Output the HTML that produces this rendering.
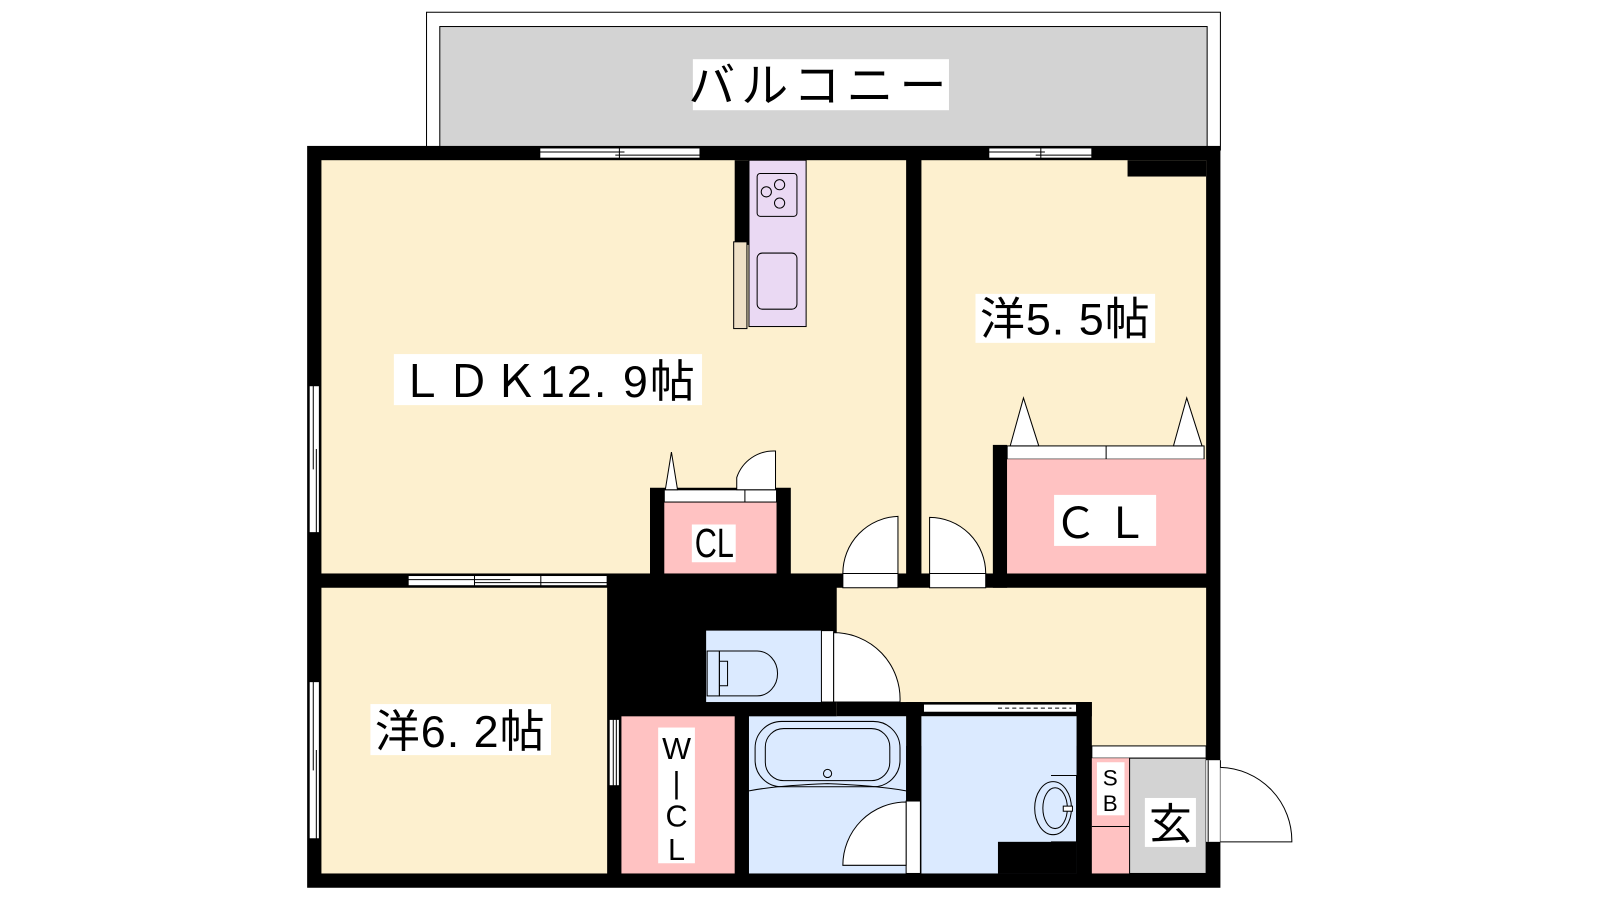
<!DOCTYPE html>
<html><head><meta charset="utf-8"><style>
html,body{margin:0;padding:0;background:#fff}
svg{display:block}
text{font-family:"Liberation Sans","Noto Sans CJK JP",sans-serif;fill:#000}
</style></head><body>
<svg width="1600" height="900" viewBox="0 0 1568 882" preserveAspectRatio="none" xmlns="http://www.w3.org/2000/svg">
<!-- balcony -->
<rect x="418" y="12" width="778" height="135" fill="#fff" stroke="#000" stroke-width="1"/>
<rect x="431" y="26" width="752" height="121" fill="#d3d3d3" stroke="#000" stroke-width="1"/>
<rect x="679" y="58" width="251" height="50" fill="#fff"/>
<text x="804" y="100" font-size="46" text-anchor="middle" letter-spacing="6">バルコニー</text>

<!-- floors -->
<rect x="301" y="143" width="895" height="727" fill="#000"/>
<rect x="315" y="157" width="573" height="405" fill="#fdf0cf"/>
<rect x="903" y="157" width="279" height="405" fill="#fdf0cf"/>
<rect x="1105" y="157" width="77" height="16" fill="#000"/>
<rect x="315" y="576" width="280" height="280" fill="#fdf0cf"/>
<rect x="820" y="576" width="362" height="155" fill="#fdf0cf"/>
<rect x="820" y="688" width="250" height="14" fill="#000"/>
<rect x="1055" y="688" width="15" height="55" fill="#000"/>

<!-- windows top -->
<rect x="529" y="145" width="157" height="10" fill="#fff" stroke="#000" stroke-width="1"/>
<line x1="529" y1="149" x2="612" y2="149" stroke="#000"/><line x1="603" y1="152" x2="686" y2="152" stroke="#000"/><line x1="607" y1="145" x2="607" y2="155" stroke="#000"/>
<rect x="969" y="145" width="101" height="10" fill="#fff" stroke="#000" stroke-width="1"/>
<line x1="969" y1="149" x2="1024" y2="149" stroke="#000"/><line x1="1015" y1="152" x2="1070" y2="152" stroke="#000"/><line x1="1020" y1="145" x2="1020" y2="155" stroke="#000"/>
<!-- left windows -->
<rect x="303" y="378" width="10" height="144" fill="#fff" stroke="#000"/>
<line x1="307" y1="378" x2="307" y2="460" stroke="#000"/><line x1="310" y1="440" x2="310" y2="522" stroke="#000"/>
<rect x="303" y="668" width="10" height="154" fill="#fff" stroke="#000"/>
<line x1="307" y1="668" x2="307" y2="755" stroke="#000"/><line x1="310" y1="735" x2="310" y2="822" stroke="#000"/>
<!-- LDK / 6.2 window -->
<rect x="400" y="564" width="195" height="10" fill="#fff" stroke="#000"/>
<line x1="400" y1="568" x2="500" y2="568" stroke="#000"/><line x1="465" y1="571" x2="595" y2="571" stroke="#000"/>
<line x1="465" y1="564" x2="465" y2="574" stroke="#000"/><line x1="530" y1="564" x2="530" y2="574" stroke="#000"/>
<!-- 6.2 / WIC window -->
<rect x="597" y="705" width="10" height="65" fill="#fff" stroke="#000"/>
<line x1="601" y1="705" x2="601" y2="770" stroke="#000"/><line x1="604" y1="705" x2="604" y2="770" stroke="#000"/>

<!-- kitchen -->
<rect x="720" y="157" width="14" height="83" fill="#000"/>
<rect x="719" y="237" width="13" height="85" fill="#efe0c6" stroke="#000"/>
<rect x="734" y="157" width="56" height="163" fill="#ead9f3" stroke="#000"/>
<rect x="742" y="170" width="39" height="42" rx="3" fill="none" stroke="#000"/>
<circle cx="751" cy="188" r="5" fill="none" stroke="#000"/><circle cx="764" cy="181" r="5" fill="none" stroke="#000"/><circle cx="764" cy="199" r="5" fill="none" stroke="#000"/>
<rect x="742" y="248" width="39" height="55" rx="5" fill="none" stroke="#000"/>

<!-- labels -->
<rect x="386" y="347" width="302" height="50" fill="#fff"/>
<text x="537" y="389" font-size="44" text-anchor="middle" letter-spacing="2">ＬＤＫ12. 9帖</text>
<rect x="956" y="288" width="176" height="48" fill="#fff"/>
<text x="1044" y="328" font-size="44" text-anchor="middle" letter-spacing="1">洋5. 5帖</text>

<!-- right CL -->
<rect x="973" y="436" width="14" height="140" fill="#000"/>
<rect x="987" y="437" width="193" height="13" fill="#fff" stroke="#000"/>
<line x1="1084" y1="437" x2="1084" y2="450" stroke="#000"/>
<rect x="987" y="450" width="195" height="112" fill="#ffc2c2"/>
<polygon points="990,437 1003,390 1018,437" fill="#fff" stroke="#000"/>
<polygon points="1150,437 1163,390 1178,437" fill="#fff" stroke="#000"/>
<rect x="1033" y="485" width="100" height="50" fill="#fff"/>
<text x="1083" y="527" font-size="42" text-anchor="middle" letter-spacing="8">ＣＬ</text>

<!-- small CL -->
<rect x="637" y="478" width="138" height="98" fill="#000"/>
<rect x="651" y="492" width="110" height="70" fill="#ffc2c2"/>
<rect x="651" y="480" width="110" height="12" fill="#fff" stroke="#000"/>
<line x1="730" y1="480" x2="730" y2="492" stroke="#000"/>
<polygon points="652,480 658,443 664,480" fill="#fff" stroke="#000"/>
<path d="M722,480 L722,468 A38,38 0 0 1 760,442 L760,480 Z" fill="#fff" stroke="#000"/>
<rect x="678" y="514" width="43" height="37" fill="#fff"/>
<text x="700" y="546" font-size="40" text-anchor="middle" transform="translate(700,0) scale(0.75,1) translate(-700,0)">CL</text>

<!-- doors LDK/5.5 -->
<rect x="826" y="562" width="54" height="14" fill="#fff" stroke="#000"/>
<path d="M826,562 A56,56 0 0 1 880,506 L880,562 Z" fill="#fff" stroke="#000"/>
<rect x="911" y="562" width="55" height="14" fill="#fff" stroke="#000"/>
<path d="M966,562 A55,55 0 0 0 911,507 L911,562 Z" fill="#fff" stroke="#000"/>

<!-- toilet -->
<rect x="692" y="618" width="113" height="70" fill="#dbeaff"/>
<rect x="805" y="618" width="12" height="70" fill="#fff" stroke="#000"/>
<path d="M817,620 A65,65 0 0 1 882,688 L817,688 Z" fill="#fff" stroke="#000"/>
<rect x="693" y="638" width="12" height="44" fill="none" stroke="#000"/>
<path d="M705,638 L742,638 A20,22 0 0 1 742,682 L705,682 Z" fill="none" stroke="#000"/>
<path d="M705,648 L713,648 L713,672 L705,672" fill="none" stroke="#000"/>

<!-- 6.2 label -->
<rect x="363" y="690" width="177" height="50" fill="#fff"/>
<text x="451" y="732" font-size="44" text-anchor="middle" letter-spacing="1">洋6. 2帖</text>

<!-- WIC -->
<rect x="609" y="702" width="111" height="154" fill="#ffc2c2"/>
<rect x="645" y="713" width="36" height="133" fill="#fff"/>
<text x="663" y="744" font-size="30" text-anchor="middle">W</text>
<text x="663" y="777" font-size="30" text-anchor="middle">|</text>
<text x="663" y="810" font-size="30" text-anchor="middle">C</text>
<text x="663" y="843" font-size="30" text-anchor="middle">L</text>

<!-- bath -->
<rect x="734" y="702" width="154" height="154" fill="#dbeaff"/>
<rect x="740" y="707" width="142" height="64" rx="26" fill="none" stroke="#000"/>
<rect x="750" y="714" width="122" height="51" rx="18" fill="none" stroke="#000"/>
<circle cx="811" cy="758" r="4" fill="none" stroke="#000"/>
<path d="M734,775 Q760,770 811,768 Q860,770 888,775" fill="none" stroke="#000"/>
<rect x="888" y="688" width="15" height="97" fill="#000"/>
<rect x="888" y="785" width="14" height="71" fill="#fff" stroke="#000"/>
<path d="M888,786 A62,62 0 0 0 826,848 L888,848 Z" fill="#fff" stroke="#000"/>

<!-- washroom -->
<rect x="903" y="702" width="152" height="154" fill="#dbeaff"/>
<rect x="978" y="825" width="77" height="31" fill="#000"/>
<rect x="905" y="690" width="150" height="8" fill="#fff" stroke="#000"/>
<line x1="978" y1="694" x2="1050" y2="694" stroke="#000" stroke-dasharray="4,3"/>
<path d="M1030,760 L1055,760 L1055,825 L1030,825" fill="none" stroke="#000"/>
<ellipse cx="1032" cy="792" rx="18" ry="26" fill="none" stroke="#000"/>
<ellipse cx="1034" cy="792" rx="12" ry="20" fill="none" stroke="#000"/>
<rect x="1042" y="790" width="9" height="5" fill="#fff" stroke="#000"/>

<!-- entrance -->
<rect x="1070" y="731" width="112" height="12" fill="#fff" stroke="#000"/>
<rect x="1070" y="743" width="37" height="113" fill="#ffc2c2"/>
<line x1="1070" y1="810" x2="1107" y2="810" stroke="#000"/>
<rect x="1107" y="743" width="75" height="113" fill="#d3d3d3" stroke="#000"/>
<rect x="1075" y="747" width="27" height="52" fill="#fff"/>
<text x="1088" y="770" font-size="22" text-anchor="middle">S</text>
<text x="1088" y="795" font-size="22" text-anchor="middle">B</text>
<rect x="1122" y="782" width="50" height="48" fill="#fff"/>
<text x="1147" y="822" font-size="42" text-anchor="middle">玄</text>
<!-- outside door -->
<rect x="1182" y="745" width="14" height="80" fill="#fff"/>
<line x1="1196" y1="745" x2="1196" y2="825" stroke="#000"/>
<path d="M1196,752 A72,72 0 0 1 1266,825 L1196,825" fill="#fff" stroke="#000"/>
<line x1="1184" y1="745" x2="1184" y2="825" stroke="#000"/>
</svg>
</body></html>
